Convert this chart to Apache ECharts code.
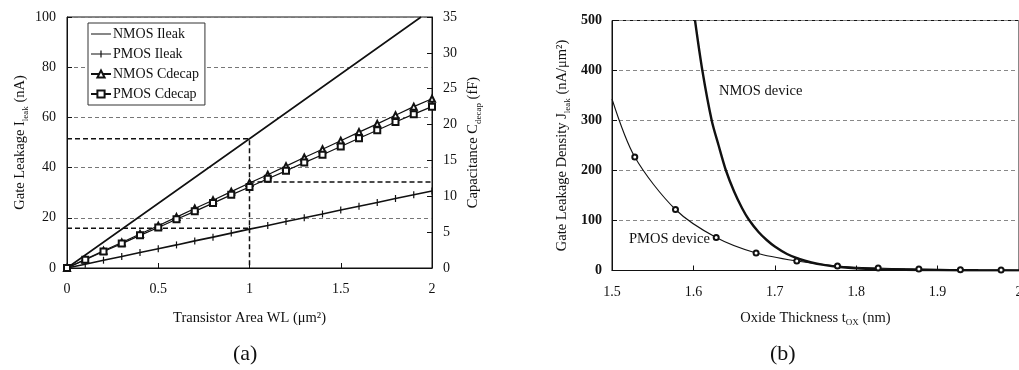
<!DOCTYPE html>
<html>
<head>
<meta charset="utf-8">
<script src="https://cdn.jsdelivr.net/npm/echarts@6/dist/echarts.min.js"></script>
<style>html,body{margin:0;padding:0;background:#fff}#c{width:1019px;height:370px}</style>
</head>
<body>
<div id="c"></div>
<script>
// ---- Chart (a) data ----
const areaWL = [0,0.1,0.2,0.3,0.4,0.5,0.6,0.7,0.8,0.9,1.0,1.1,1.2,1.3,1.4,1.5,1.6,1.7,1.8,1.9,2.0];
const nmosIleak = [[0,0],[1,51.5],[1.94,100]];
const pmosIleak = [0,1.5,3.1,4.6,6.2,7.7,9.2,10.8,12.3,13.9,15.5,16.9,18.5,20.0,21.5,23.1,24.6,26.1,27.7,29.2,30.7];
const nmosCdecap = [0,1.2,2.4,3.55,4.75,5.9,7.1,8.3,9.45,10.65,11.85,13.0,14.2,15.4,16.55,17.75,18.95,20.1,21.3,22.5,23.6];
const pmosCdecap = [0,1.15,2.3,3.4,4.55,5.65,6.8,7.9,9.05,10.2,11.3,12.45,13.55,14.7,15.8,16.95,18.1,19.2,20.35,21.45,22.5];
const guideNmos = [[0,51.5],[1,51.5],[1,0]];
const guidePmos = [[0,15.8],[1,15.8]];
const guideCap = [[1,12],[2,12]];
const leftTicksA = [0,20,40,60,80,100];
const rightTicksA = [0,5,10,15,20,25,30,35];
const xTicksA = ['0','0.5','1','1.5','2'];

// ---- Chart (b) data ----
const nmosDevice = [[1.602,500],[1.611,400],[1.6225,300],[1.631,250],[1.640,200],[1.650,158],[1.660,124],[1.668,102],[1.680,77],[1.690,61],[1.700,48],[1.715,33],[1.730,23],[1.745,16],[1.760,11.3],[1.780,7],[1.800,4.3],[1.830,2.5],[1.860,1.5],[1.900,0.8],[1.950,0.4],[2.0,0.2]];
const pmosDevice = [[1.5,343],[1.528,227],[1.578,122],[1.628,66],[1.677,35],[1.727,19],[1.777,9],[1.827,5],[1.877,3],[1.928,1.5],[1.978,0.8],[2.0,0.6]];
const yTicksB = [0,100,200,300,400,500];
const xTicksB = ['1.5','1.6','1.7','1.8','1.9','2'];

const FF = 'Liberation Serif, Times New Roman, serif';
const TXT = '#111';
const NAME_FS = 14.5;
const lbl = (size) => ({fontFamily: FF, fontSize: size, color: TXT});
const richName = {
  t: {fontFamily: FF, fontSize: NAME_FS, color: TXT, lineHeight: 19},
  s: {fontFamily: FF, fontSize: 9, color: TXT, lineHeight: 10, verticalAlign: 'bottom'}
};
// legend icons (20x9 box; tiny corner specks fix the bounding box)
const CORNERS = 'M0,0 L0.01,0 L0.01,0.01 Z M19.99,8.99 L20,8.99 L20,9 Z ';
const ICON_LINE = 'path://' + CORNERS + 'M0,3.9 L20,3.9 L20,5.1 L0,5.1 Z';
const ICON_PLUS = 'path://' + CORNERS + 'M0,3.9 L20,3.9 L20,5.1 L0,5.1 Z M9.4,1 L10.6,1 L10.6,8 L9.4,8 Z';

const chart = echarts.init(document.getElementById('c'), null, {renderer: 'canvas'});
const option = {
  backgroundColor: '#fff',
  animation: false,
  grid: [
    {left: 67, top: 17, width: 365, height: 251, show: true, borderColor: '#111', borderWidth: 1, backgroundColor: 'transparent', outerBoundsMode: 'none', containLabel: false},
    {left: 612, top: 20.5, width: 407, height: 250, show: true, borderColor: '#111', borderWidth: 1, backgroundColor: 'transparent', outerBoundsMode: 'none', containLabel: false}
  ],
  legend: {
    data: [
      {name: 'NMOS Ileak', icon: ICON_LINE, itemStyle: {color: '#111'}},
      {name: 'PMOS Ileak', icon: ICON_PLUS, itemStyle: {color: '#111'}},
      {name: 'NMOS Cdecap'},
      {name: 'PMOS Cdecap'}
    ],
    orient: 'vertical', left: 88, top: 23,
    borderColor: '#333', borderWidth: 1, backgroundColor: '#fff',
    padding: [4, 6, 4, 2], itemGap: 6, itemWidth: 20, itemHeight: 9,
    textStyle: {fontFamily: FF, fontSize: 14, color: TXT, padding: [0,0,0,-3]}
  },
  xAxis: [
    {gridIndex: 0, type: 'value', min: 0, max: 2, interval: 0.5,
     name: 'Transistor Area WL (μm²)', nameLocation: 'middle', nameGap: 43,
     nameTextStyle: lbl(NAME_FS),
     axisLine: {lineStyle: {color: '#111'}},
     axisTick: {inside: true, length: 5, lineStyle: {color: '#111'}},
     axisLabel: Object.assign(lbl(14), {margin: 14, formatter: (v) => xTicksA[Math.round(v / 0.5)] || ''}),
     splitLine: {show: false}},
    {gridIndex: 1, type: 'value', min: 1.5, max: 2, interval: 0.1,
     name: '{t|Oxide Thickness t}{s|OX}{t| (nm)}', nameLocation: 'middle', nameGap: 38,
     nameTextStyle: {fontFamily: FF, fontSize: NAME_FS, color: TXT, rich: richName},
     axisLine: {lineStyle: {color: '#111'}},
     axisTick: {inside: true, length: 5, lineStyle: {color: '#111'}},
     axisLabel: Object.assign(lbl(14), {margin: 15, formatter: (v) => xTicksB[Math.round((v - 1.5) / 0.1)] || ''}),
     splitLine: {show: false}}
  ],
  yAxis: [
    {gridIndex: 0, type: 'value', min: 0, max: 100, interval: 20, position: 'left',
     name: '{t|Gate Leakage I}{s|leak}{t| (nA)}', nameLocation: 'middle', nameGap: 37, nameRotate: 90,
     nameTextStyle: {fontFamily: FF, fontSize: NAME_FS, color: TXT, rich: richName},
     axisLine: {show: true, lineStyle: {color: '#111'}},
     axisTick: {show: true, inside: true, length: 5, lineStyle: {color: '#111'}},
     axisLabel: Object.assign(lbl(14), {margin: 11, formatter: (v) => leftTicksA.indexOf(v) >= 0 ? String(v) : ''}),
     splitLine: {show: true, lineStyle: {color: '#777', type: [4, 3], width: 1}}},
    {gridIndex: 0, type: 'value', min: 0, max: 35, interval: 5, position: 'right',
     name: '{t|Capacitance C}{s|decap}{t| (fF)}', nameLocation: 'middle', nameGap: 32, nameRotate: 90,
     nameTextStyle: {fontFamily: FF, fontSize: NAME_FS, color: TXT, rich: richName},
     axisLine: {show: true, lineStyle: {color: '#111'}},
     axisTick: {show: true, inside: true, length: 5, lineStyle: {color: '#111'}},
     axisLabel: Object.assign(lbl(14), {margin: 11, formatter: (v) => rightTicksA.indexOf(v) >= 0 ? String(v) : ''}),
     splitLine: {show: false}},
    {gridIndex: 1, type: 'value', min: 0, max: 500, interval: 100,
     name: '{t|Gate Leakage Density J}{s|leak}{t| (nA/μm²)}', nameLocation: 'middle', nameGap: 40, nameRotate: 90,
     nameTextStyle: {fontFamily: FF, fontSize: NAME_FS, color: TXT, rich: richName},
     axisLine: {show: true, lineStyle: {color: '#111'}},
     axisTick: {show: true, inside: true, length: 5, lineStyle: {color: '#111'}},
     axisLabel: Object.assign(lbl(14), {margin: 10, fontWeight: 'bold', formatter: (v) => yTicksB.indexOf(v) >= 0 ? String(v) : ''}),
     splitLine: {show: true, lineStyle: {color: '#888', type: [4, 3], width: 1}}}
  ],
  series: [
    {name: 'guide1', type: 'line', xAxisIndex: 0, yAxisIndex: 0, data: guideNmos, symbol: 'none',
     lineStyle: {color: '#111', width: 1.5, type: [5, 3]}, silent: true, z: 1},
    {name: 'guide2', type: 'line', xAxisIndex: 0, yAxisIndex: 0, data: guidePmos, symbol: 'none',
     lineStyle: {color: '#111', width: 1.5, type: [5, 3]}, silent: true, z: 1},
    {name: 'guide3', type: 'line', xAxisIndex: 0, yAxisIndex: 1, data: guideCap, symbol: 'none',
     lineStyle: {color: '#111', width: 1.5, type: [5, 3]}, silent: true, z: 1},
    {name: 'NMOS Ileak', type: 'line', xAxisIndex: 0, yAxisIndex: 0, data: nmosIleak,
     symbol: 'none', itemStyle: {color: '#111'}, lineStyle: {color: '#111', width: 1.6}, z: 3},
    {name: 'PMOS Ileak', type: 'line', xAxisIndex: 0, yAxisIndex: 0,
     data: areaWL.map((x, i) => [x, pmosIleak[i]]),
     symbol: 'rect', symbolSize: [1.2, 7], itemStyle: {color: '#111'},
     lineStyle: {color: '#111', width: 1.6}, z: 3},
    {name: 'NMOS Cdecap', type: 'line', xAxisIndex: 0, yAxisIndex: 1,
     data: areaWL.map((x, i) => [x, nmosCdecap[i]]),
     symbol: 'emptyTriangle', symbolSize: 6,
     itemStyle: {color: '#111', borderWidth: 1},
     lineStyle: {color: '#111', width: 1.2}, z: 3},
    {name: 'PMOS Cdecap', type: 'line', xAxisIndex: 0, yAxisIndex: 1,
     data: areaWL.map((x, i) => [x, pmosCdecap[i]]),
     symbol: 'emptyRect', symbolSize: 6,
     itemStyle: {color: '#111', borderWidth: 1},
     lineStyle: {color: '#111', width: 1.2}, z: 3},
    {name: 'NMOS device', type: 'line', xAxisIndex: 1, yAxisIndex: 2, data: nmosDevice,
     symbol: 'none', smooth: 0.3, clip: true,
     itemStyle: {color: '#111'}, lineStyle: {color: '#111', width: 2.4}, z: 3},
    {name: 'PMOS device', type: 'line', xAxisIndex: 1, yAxisIndex: 2,
     data: pmosDevice.map((p, i) => (i === 0 || i === pmosDevice.length - 1) ? {value: p, symbol: 'none'} : {value: p}),
     symbol: 'emptyCircle', symbolSize: 5, smooth: 0.3, clip: true,
     itemStyle: {color: '#111', borderWidth: 1},
     lineStyle: {color: '#111', width: 1.1}, z: 4}
  ],
  graphic: [
    {type: 'text', left: 233, top: 343, style: {text: '(a)', font: '22px ' + FF, fill: '#111'}},
    {type: 'text', left: 770, top: 343, style: {text: '(b)', font: '22px ' + FF, fill: '#111'}},
    {type: 'text', left: 719, top: 84, style: {text: 'NMOS device', font: '14.5px ' + FF, fill: '#111'}},
    {type: 'text', left: 629, top: 232, style: {text: 'PMOS device', font: '14.5px ' + FF, fill: '#111'}}
  ]
};
chart.setOption(option);
</script>
</body>
</html>
